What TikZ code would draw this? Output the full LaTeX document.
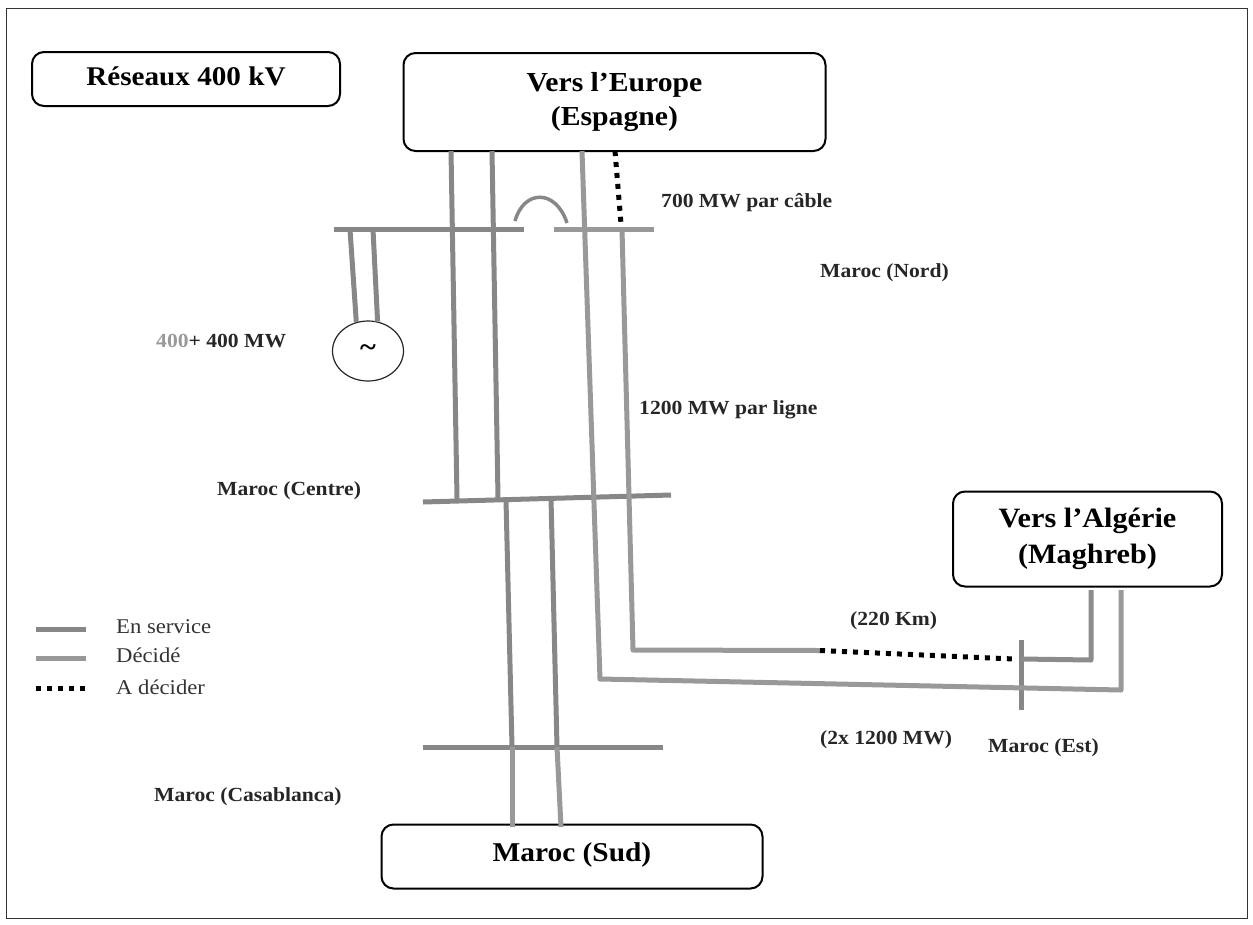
\documentclass[tikz,border=0pt]{standalone}
\usepackage{fontspec}
\usetikzlibrary{shapes.geometric}
\setmainfont[FakeStretch=1.08]{Liberation Serif}
\begin{document}
\begin{tikzpicture}[x=1pt,y=-1pt,
  box/.style={draw=black,line width=2pt,rounded corners=12pt,fill=white,align=center,inner sep=0pt},
  lbl/.style={font=\bfseries\fontsize{20}{22}\selectfont,text=black!85,inner sep=0pt,yshift=-2.5pt},
  leg/.style={font=\fontsize{21}{23}\selectfont,text=black!80,inner sep=0pt,anchor=west,yshift=-1pt},
  service/.style={draw=black!47,line width=5pt},
  decide/.style={draw=black!40,line width=5pt},
  todo/.style={draw=black,line width=5pt,dash pattern=on 5pt off 6pt}]
\useasboundingbox (0,0) rectangle (1253,924);
\draw[black!80,line width=1pt] (6,8) rectangle (1247,918);
% boxes
\node[box,minimum width=308pt,minimum height=54pt] (res) at (186,79) {\raisebox{5pt}{\bfseries\fontsize{27}{30}\selectfont Réseaux 400 kV}};
\node[box,minimum width=422pt,minimum height=98pt] (eur) at (614.5,102) {\bfseries\fontsize{27.5}{34}\selectfont Vers l’Europe\\[8pt]\bfseries\fontsize{27.5}{34}\selectfont (Espagne)};
\node[box,minimum width=269pt,minimum height=95pt] (alg) at (1087.5,539) {\bfseries\fontsize{28}{35}\selectfont Vers l’Algérie\\[9pt]\bfseries\fontsize{28}{35}\selectfont (Maghreb)};
\node[box,minimum width=381pt,minimum height=64pt] (sud) at (572,856.5) {\raisebox{9pt}{\bfseries\fontsize{27.2}{30}\selectfont Maroc (Sud)}};
\node[draw=black!85,line width=1.2pt,ellipse,minimum width=71pt,minimum height=60pt,inner sep=0pt,fill=white] (gen) at (368,351) {\bfseries\fontsize{28}{28}\selectfont\raisebox{1pt}{\textasciitilde}};
% bus coordinates
\coordinate (nw) at (334,229.5); \coordinate (ne) at (524,229.5);
\coordinate (mw) at (554,229.5); \coordinate (me) at (654,229.5);
\coordinate (cw) at (423,502); \coordinate (ce) at (671,495);
\coordinate (cfw) at (423,747); \coordinate (cfe) at (663,747);
\coordinate (et) at (1021,640); \coordinate (eb) at (1021,710);
\draw[service] (nw)--(ne);
\draw[decide] (mw)--(me);
\draw[service] (cw)--(ce);
\draw[service] (cfw)--(cfe);
\draw[service] (et)--(eb);
% vertical lines from Europe
\coordinate (e1) at (451,151); \coordinate (c1) at (457,499);
\coordinate (e2) at (492,151); \coordinate (c2) at (498,498);
\draw[service] (e1)--(c1);
\draw[service] (e2)--(c2);
\coordinate (e3) at (582,151); \coordinate (e3a) at (600,679);
\coordinate (b3) at (1121,690); \coordinate (a3) at (1121,590);
\draw[decide,line join=round] (e3)--(e3a)--(b3)--(a3);
\coordinate (m4) at (622,229.5); \coordinate (e4) at (615,151); \coordinate (m4t) at (621,224);
\coordinate (e4a) at (633,650); \coordinate (e4b) at (820,650.5);
\draw[decide,line join=round] (m4)--(e4a)--(e4b);
\draw[todo] (e4)--(m4t);
\coordinate (d1) at (1021,659); \coordinate (d0) at (1014,659);
\draw[todo] (e4b)--(d0);
\coordinate (a2) at (1091,590); \coordinate (a2b) at (1091,660);
\draw[service,draw=black!45,line join=round] (a2)--(a2b)--(d1);
% south
\coordinate (s1t) at (506,500); \coordinate (s1f) at (512,747); \coordinate (s1b) at (512,827);
\coordinate (s2t) at (551,498); \coordinate (s2f) at (557,747); \coordinate (s2b) at (561,827);
\draw[service] (s1t)--(s1f);
\draw[service] (s2t)--(s2f);
\draw[decide] (s1f)--(s1b);
\draw[decide] (s2f)--(s2b);
% generator links
\coordinate (g1) at (350,229.5); \coordinate (g2) at (373,229.5);
\draw[service] (g1)--(gen.112);
\draw[service] (g2)--(gen.72);
% jumper
\coordinate (j1) at (515,221); \coordinate (j2) at (567,223);
\draw[service,line width=3.5pt] (j1) .. controls (524,189) and (556,189) .. (j2);
% legend
\coordinate (l1a) at (36,629); \coordinate (l1b) at (86,629);
\coordinate (l2a) at (36,658); \coordinate (l2b) at (86,658);
\coordinate (l3a) at (36,688); \coordinate (l3b) at (86,688);
\draw[service] (l1a)--(l1b);
\draw[decide] (l2a)--(l2b);
\draw[todo] (l3a)--(l3b);
\node[leg] (t1) at (116,626) {En service};
\node[leg] (t2) at (116,654) {Décidé};
\node[leg] (t3) at (116,686) {A décider};
% labels
\node[lbl,anchor=west] (a) at (661,200) {700 MW par câble};
\node[lbl,anchor=west] (b) at (820,270) {Maroc (Nord)};
\node[lbl,anchor=west] (c) at (156,338) {\textcolor{black!40}{400}+ 400 MW};
\node[lbl,anchor=west] (d) at (639,407) {1200 MW par ligne};
\node[lbl,anchor=west] (e) at (217,488) {Maroc (Centre)};
\node[lbl,anchor=west] (f) at (850,618) {(220 Km)};
\node[lbl,anchor=west] (g) at (820,737) {(2x 1200 MW)};
\node[lbl,anchor=west] (h) at (988,745) {Maroc (Est)};
\node[lbl,anchor=west] (i) at (154,794) {Maroc (Casablanca)};
\end{tikzpicture}
\end{document}
